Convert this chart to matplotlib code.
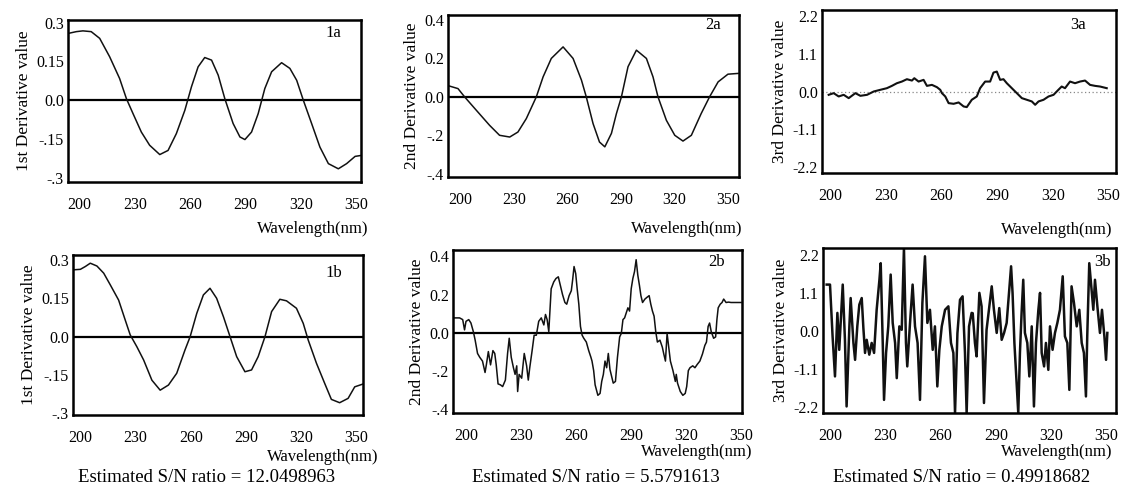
import matplotlib
matplotlib.use("Agg")
import matplotlib.pyplot as plt

plt.rcParams['font.family'] = ['Liberation Serif', 'DejaVu Serif']

# ---------------- data ----------------
x_ticks = [200, 230, 260, 290, 320, 350]

wl_1a = [193.7, 198.2, 201.8, 206.3, 210.9, 216.3, 221.7, 225.4, 229.0, 233.5, 238.0, 243.5, 248.0,
         252.5, 257.1, 260.7, 264.3, 267.9, 271.6, 275.2, 278.8, 283.3, 287.0, 289.7, 293.3, 296.9,
         300.5, 304.2, 309.6, 314.1, 317.8, 321.4, 325.9, 330.4, 335.0, 340.4, 344.9, 349.5, 353.1]
val_1a = [0.258, 0.265, 0.268, 0.265, 0.239, 0.168, 0.084, 0.006, -0.052, -0.123, -0.174, -0.21, -0.194,
          -0.129, -0.039, 0.052, 0.129, 0.165, 0.155, 0.097, 0.006, -0.09, -0.142, -0.152, -0.123, -0.052,
          0.045, 0.11, 0.145, 0.123, 0.077, 0.0, -0.09, -0.181, -0.245, -0.265, -0.245, -0.217, -0.213]

wl_2a = [194.0, 198.7, 202.4, 209.0, 216.4, 222.0, 227.7, 232.3, 237.0, 242.6, 246.4, 251.0, 257.6,
         263.2, 267.9, 270.6, 274.4, 278.0, 281.0, 284.7, 287.5, 290.3, 294.0, 298.7, 304.3, 308.0,
         310.8, 315.5, 320.2, 324.8, 329.5, 335.0, 339.7, 344.5, 350.0, 355.7]
val_2a = [0.056, 0.043, 0.0, -0.07, -0.148, -0.2, -0.209, -0.183, -0.113, 0.0, 0.104, 0.2, 0.26,
          0.2, 0.087, 0.0, -0.139, -0.235, -0.26, -0.19, -0.087, 0.0, 0.157, 0.243, 0.2, 0.104,
          0.0, -0.122, -0.2, -0.23, -0.2, -0.087, 0.0, 0.078, 0.118, 0.122]

wl_3a = [199.1, 201.8, 204.5, 207.2, 209.9, 213.5, 216.2, 219.8, 223.4, 226.9, 230.5, 233.2, 235.9,
         238.6, 241.3, 244.0, 245.3, 247.6, 250.3, 252.1, 254.8, 257.5, 259.3, 260.2, 262.0, 263.8,
         266.5, 269.2, 271.9, 273.6, 276.3, 279.0, 280.8, 283.5, 286.2, 288.0, 289.8, 291.6, 293.4,
         295.2, 297.9, 300.6, 303.3, 306.0, 308.7, 310.5, 312.3, 315.0, 317.7, 320.4, 323.0, 324.8,
         326.6, 329.3, 332.0, 334.7, 337.4, 340.1, 342.8, 345.5, 349.1]
val_3a = [-0.096, -0.048, -0.144, -0.096, -0.192, -0.048, -0.125, -0.096, 0.0, 0.048, 0.096, 0.163, 0.24,
          0.288, 0.356, 0.317, 0.385, 0.288, 0.337, 0.163, 0.192, 0.125, 0.048, -0.048, -0.144, -0.337,
          -0.356, -0.317, -0.433, -0.452, -0.24, -0.144, 0.096, 0.288, 0.288, 0.548, 0.577, 0.337, 0.356,
          0.24, 0.096, -0.048, -0.192, -0.24, -0.288, -0.385, -0.288, -0.24, -0.144, -0.096, 0.048, 0.144,
          0.096, 0.288, 0.24, 0.288, 0.317, 0.192, 0.163, 0.144, 0.096]

wl_1b = [196.0, 200.0, 202.7, 205.4, 209.0, 212.7, 216.3, 220.8, 224.4, 227.1, 230.7, 234.4, 238.9,
         243.4, 247.9, 252.4, 256.9, 259.7, 263.3, 266.9, 270.5, 274.1, 277.8, 281.4, 285.0, 289.5,
         293.1, 296.7, 300.4, 304.0, 308.5, 312.1, 317.5, 321.2, 323.9, 328.4, 332.9, 336.5, 341.0,
         345.6, 349.2, 353.7]
val_1b = [0.261, 0.263, 0.274, 0.287, 0.276, 0.248, 0.202, 0.143, 0.065, 0.007, -0.039, -0.091, -0.17,
          -0.209, -0.189, -0.143, -0.052, 0.0, 0.091, 0.163, 0.189, 0.15, 0.078, 0.0, -0.078, -0.137,
          -0.13, -0.078, 0.0, 0.098, 0.146, 0.14, 0.111, 0.052, -0.013, -0.104, -0.183, -0.245, -0.258,
          -0.241, -0.196, -0.185]

wl_2b = [192.7, 196.3, 198.0, 199.0, 199.8, 201.3, 202.5, 203.8, 204.8, 206.1, 207.3, 208.8, 210.2,
         210.9, 212.0, 213.2, 214.5, 215.5, 216.3, 217.3, 218.6, 219.8, 221.3, 222.5, 223.4, 224.5,
         225.7, 226.6, 227.5, 228.0, 228.8, 230.2, 231.6, 232.9, 233.8, 234.6, 235.9, 237.0, 238.2,
         239.5, 240.9, 242.3, 243.2, 244.1, 245.0, 246.3, 247.7, 248.9, 250.2, 251.3, 252.5, 253.8,
         254.8, 256.1, 257.3, 258.0, 258.8, 259.7, 260.5, 261.4, 262.3, 263.2, 264.1, 265.5, 266.8,
         268.0, 268.6, 269.5, 270.3, 271.8, 273.0, 273.9, 274.8, 275.7, 276.6, 277.5, 278.4, 279.3,
         280.2, 281.4, 282.5, 283.7, 284.6, 285.5, 286.4, 287.3, 288.2, 289.1, 290.0, 290.9, 291.8,
         292.7, 293.6, 294.5, 295.3, 296.2, 297.5, 298.6, 299.8, 300.7, 301.6, 302.5, 303.4, 304.3,
         305.7, 307.0, 307.8, 308.7, 309.6, 310.5, 311.4, 312.8, 314.1, 314.6, 315.3, 316.8, 318.2,
         319.5, 320.3, 321.2, 322.1, 323.6, 324.8, 326.1, 327.5, 328.9, 330.2, 331.1, 332.0, 332.8,
         333.7, 335.0, 336.1, 336.8, 337.5, 338.6, 339.6, 340.5, 341.8, 343.2, 344.5, 347.1, 350.0]
val_2b = [0.077, 0.077, 0.068, 0.014, 0.059, 0.068, 0.05, 0.005, -0.04, -0.11, -0.13, -0.15, -0.21,
          -0.17, -0.1, -0.17, -0.095, -0.11, -0.17, -0.27, -0.275, -0.284, -0.25, -0.11, -0.03, -0.13,
          -0.185, -0.22, -0.175, -0.31, -0.22, -0.24, -0.11, -0.175, -0.25, -0.185, -0.095, -0.014, -0.014,
          0.059, 0.077, 0.04, 0.095, 0.068, 0.005, 0.23, 0.266, 0.284, 0.293, 0.248, 0.2, 0.158,
          0.149, 0.194, 0.22, 0.275, 0.347, 0.31, 0.23, 0.149, 0.032, -0.014, -0.03, -0.05, -0.095,
          -0.13, -0.15, -0.2, -0.275, -0.33, -0.32, -0.257, -0.22, -0.15, -0.185, -0.11, -0.194, -0.23,
          -0.266, -0.257, -0.13, -0.023, -0.005, 0.068, 0.077, 0.104, 0.13, 0.113, 0.23, 0.284, 0.32,
          0.383, 0.302, 0.248, 0.194, 0.158, 0.176, 0.185, 0.194, 0.149, 0.113, 0.086, 0.005, -0.05,
          -0.04, -0.077, -0.113, -0.15, -0.005, -0.077, -0.15, -0.2, -0.257, -0.22, -0.266, -0.31, -0.33,
          -0.32, -0.284, -0.2, -0.185, -0.175, -0.185, -0.167, -0.15, -0.113, -0.068, -0.05, 0.032, 0.05,
          0.005, -0.03, -0.023, 0.068, 0.13, 0.149, 0.158, 0.176, 0.158, 0.16, 0.158, 0.158, 0.158]

wl_3b = [198.2, 200.0, 201.4, 202.7, 204.0, 205.0, 205.8, 206.9, 208.1, 209.0, 210.5, 211.2, 212.7,
         213.6, 214.8, 215.9, 217.2, 218.1, 219.0, 219.9, 221.3, 222.6, 223.9, 225.3, 226.8, 227.5,
         228.6, 229.3, 230.4, 231.6, 232.9, 234.0, 235.3, 236.2, 237.6, 238.9, 240.1, 241.2, 241.9,
         243.4, 244.8, 246.1, 247.5, 248.8, 250.1, 251.5, 252.8, 254.2, 255.7, 256.9, 258.2, 259.3,
         260.6, 262.4, 264.2, 265.6, 266.9, 267.8, 269.1, 270.5, 271.9, 273.2, 274.1, 275.4, 276.8,
         277.4, 278.6, 279.5, 281.0, 282.2, 283.5, 284.9, 286.4, 287.7, 288.9, 290.4, 291.8, 293.1,
         294.4, 295.8, 297.2, 298.2, 299.0, 300.0, 301.2, 302.1, 303.0, 303.9, 304.8, 305.7, 307.0,
         308.1, 309.4, 310.6, 311.7, 313.0, 313.9, 314.8, 316.1, 317.1, 318.4, 319.3, 320.7, 322.0,
         323.3, 324.7, 326.2, 327.4, 328.7, 329.8, 331.0, 332.3, 333.8, 335.2, 336.5, 337.7, 338.8,
         339.5, 340.6, 341.7, 342.8, 343.7, 345.0, 346.4, 347.5, 348.8, 349.7, 350.4]
val_3b = [1.34, 1.34, -0.16, -1.32, 0.52, -0.55, 0.23, 1.34, -0.26, -2.19, 0.13, 0.95, -0.35,
          -0.84, 0.13, 0.76, 0.95, 0.08, -0.64, -0.26, -0.69, -0.35, -0.64, 0.61, 1.48, 1.96,
          -0.35, -2.0, -0.64, 0.13, 1.63, 0.23, -0.35, -1.37, 0.13, 0.03, 2.4, -0.35, -1.03,
          0.23, 1.34, 0.13, -0.35, -2.0, 0.81, 2.16, 0.23, 0.61, -0.55, 0.13, -1.61, -0.55,
          0.13, 0.61, 0.71, -0.35, -0.64, -2.38, -0.07, 0.9, 1.0, -0.64, -2.38, 0.13, 0.52,
          0.51, -0.35, -0.74, 1.1, 0.71, -2.09, 0.03, 0.71, 1.29, 0.61, -0.06, 0.66, -0.26,
          -0.06, 0.23, 1.19, 1.87, 1.1, -0.35, -1.51, -2.38, -0.64, 0.52, 1.48, -0.06, -0.35,
          -1.32, 0.13, -2.19, -0.35, 0.61, 1.1, -0.64, -1.03, -0.35, -1.13, 0.13, -0.55, -0.06,
          0.23, 0.61, 1.58, -0.16, -0.35, -1.71, 1.29, 0.81, 0.13, 0.61, -0.35, -0.64, -1.9,
          -0.16, 1.96, 1.29, 0.61, 1.48, 0.71, -0.06, 0.61, -0.16, -0.84, -0.06]

ylabels = ["1st Derivative value", "2nd Derivative value", "3rd Derivative value"]
yticks_1 = [0.3, 0.15, 0.0, -0.15, -0.3]
ytl_1 = ["0.3", "0.15", "0.0", "-.15", "-.3"]
yticks_2 = [0.4, 0.2, 0.0, -0.2, -0.4]
ytl_2 = ["0.4", "0.2", "0.0", "-.2", "-.4"]
yticks_3 = [2.2, 1.1, 0.0, -1.1, -2.2]
ytl_3 = ["2.2", "1.1", "0.0", "-1.1", "-2.2"]
sn_texts = ["Estimated S/N ratio = 12.0498963", "Estimated S/N ratio = 5.5791613",
            "Estimated S/N ratio = 0.49918682"]

# ---------------- figure ----------------
W, H = 1123, 487
fig = plt.figure(figsize=(W / 100, H / 100), dpi=100)


def px_axes(x0, y0, x1, y1):
    return fig.add_axes([x0 / W, 1 - y1 / H, (x1 - x0) / W, (y1 - y0) / H])


panels = [
    # box(px), xlim, ylim, x, y, yticks, ytl, label, label pos, ylabel, zero style, lw
    ((68, 20, 361, 182), (193.7, 352.7), (-0.316, 0.31), wl_1a, val_1a, yticks_1, ytl_1, "1a", (0.905, 0.92), ylabels[0], 'solid', 1.1),
    ((448, 15, 739, 177), (193.1, 356.2), (-0.417, 0.426), wl_2a, val_2a, yticks_2, ytl_2, "2a", (0.91, 0.94), ylabels[1], 'solid', 1.1),
    ((822, 10, 1116, 173), (195.5, 354.1), (-2.36, 2.36), wl_3a, val_3a, yticks_3, ytl_3, "3a", (0.87, 0.91), ylabels[2], 'dotted', 1.5),
    ((73, 255, 363, 415), (196.0, 353.7), (-0.306, 0.319), wl_1b, val_1b, yticks_1, ytl_1, "1b", (0.90, 0.89), ylabels[0], 'solid', 1.1),
    ((453, 250, 742, 413), (192.7, 350.5), (-0.423, 0.434), wl_2b, val_2b, yticks_2, ytl_2, "2b", (0.913, 0.926), ylabels[1], 'solid', 1.1),
    ((823, 248, 1116, 413), (196.2, 355.1), (-2.38, 2.4), wl_3b, val_3b, yticks_3, ytl_3, "3b", (0.955, 0.915), ylabels[2], None, 1.8),
]

xlab_right = [368, 742, 1112, 378, 752, 1112]
xlab_y = [229, 229, 230, 457, 452, 452]
sn_cx = [207, 596, 962]

for i, (box, xl, yl, xs, ys, yt, ytl, lab, lpos, ylab, zstyle, lw) in enumerate(panels):
    ax = px_axes(*box)
    if zstyle == 'solid':
        ax.axhline(0, color='black', lw=1.6, zorder=1)
    elif zstyle == 'dotted':
        ax.axhline(0, color='#888888', lw=0.9, ls=(0, (1, 2)), zorder=1)
    ax.plot(xs, ys, color='#111111', lw=lw, zorder=2)
    ax.set_xlim(*xl)
    ax.set_ylim(*yl)
    ax.set_xticks(x_ticks)
    ax.set_yticks(yt)
    ax.set_yticklabels(ytl)
    ax.tick_params(length=0, labelsize=11.5, colors='black')
    ax.tick_params(axis='x', pad=11)
    ax.tick_params(axis='y', pad=3)
    for s in ax.spines.values():
        s.set_linewidth(1.8)
        s.set_color('black')
    ax.text(lpos[0], lpos[1], lab, transform=ax.transAxes, fontsize=12,
            ha='center', va='center')
    ax.set_ylabel(ylab, fontsize=12.5, labelpad=3)
    fig.text(xlab_right[i] / W, 1 - xlab_y[i] / H, "Wavelength(nm)", fontsize=12,
             ha='right', va='center')
    if i >= 3:
        fig.text(sn_cx[i - 3] / W, 1 - 477 / H, sn_texts[i - 3], fontsize=13.5,
                 ha='center', va='center')

fig.savefig("out.png", dpi=100)
